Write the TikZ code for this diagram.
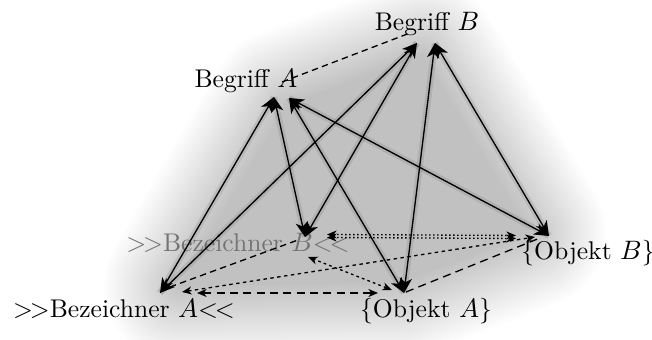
\documentclass[tikz,border=0pt]{standalone}
\usetikzlibrary{arrows.meta}
\newcommand{\gtgt}{>\kern-1.2pt>}
\newcommand{\ltlt}{<\kern-1.2pt<}
\begin{document}
\begin{tikzpicture}[x=0.375pt,y=-0.375pt,
  bigtip/.tip={Stealth[length=5.6pt,width=4.6pt,inset=1.6pt]},
  smalltip/.tip={Stealth[length=3.6pt,width=3pt,inset=1.1pt]},
  solidlink/.style={line width=.5pt, bigtip-bigtip},
  samelink/.style={line width=.5pt, dash pattern=on 2.4pt off 1.6pt},
  longlink/.style={line width=.5pt, dash pattern=on 3pt off 2pt, smalltip-smalltip},
  finelink/.style={line width=.5pt, dash pattern=on 1.3pt off 1.3pt, smalltip-smalltip},
  dotlink/.style={line width=.5pt, dash pattern=on .5pt off 1pt, smalltip-smalltip},
  lbl/.style={anchor=base, inner sep=0pt, font=\fontsize{9.6}{12}\selectfont},
  glow/.style={line width=2.4pt, black, opacity=.09}]
\useasboundingbox (0,0) rectangle (652,340);
% soft gray background
\foreach \i in {0,...,30}{
  \begin{scope}[transparency group, opacity=.0085]
    \filldraw[black, line join=round, line width=\i*1.9pt]
      (286,105) -- (423,55) -- (530,232) -- (402,282) -- (180,286) -- cycle;
  \end{scope}
}
% anchor points
\coordinate (BAl) at (274,97);
\coordinate (BAr) at (289,98);
\coordinate (BBl) at (417,43);
\coordinate (BBr) at (435,43);
\coordinate (BzA) at (160,293);
\coordinate (BzB) at (305,237);
\coordinate (OA) at (404,293);
\coordinate (OB) at (549,236);
% ends of the dashed links
\coordinate (sBA) at (282,82);
\coordinate (sBB) at (410,33);
\coordinate (sZA) at (170,287);
\coordinate (sZB) at (298,240);
\coordinate (sOA) at (406,292);
\coordinate (sOB) at (540,238);
\coordinate (lA1) at (197,293);
\coordinate (lA2) at (378,293);
\coordinate (fA1) at (182,292);
\coordinate (fA2) at (535,237);
\coordinate (dB1) at (327,234.5);
\coordinate (dB2) at (516,235.5);
\coordinate (dB3) at (327,237.5);
\coordinate (dB4) at (516,238.5);
\coordinate (oA1) at (392,290);
\coordinate (oA2) at (308,257);
% labels
\node[lbl] (tBA) at (246,88) {Begriff $A$};
\node[lbl] (tBB) at (427,31) {Begriff $B$};
\node[lbl, text=black!55] (tZB) at (238,252) {\gtgt Bezeichner $B$\ltlt};
\node[lbl] (tZA) at (124,318) {\gtgt Bezeichner $A$\ltlt};
\node[lbl] (tOA) at (426,318) {\{Objekt $A$\}};
\node[lbl] (tOB) at (588,260) {\{Objekt $B$\}};
% shadows of the solid links
\foreach \a/\b in {BzA/BAl,BzB/BAl,OA/BAr,OB/BAr,BzA/BBl,BzB/BBl,OA/BBr,OB/BBr}
  \draw[glow] (\a) -- (\b);
% links between the same level
\draw[samelink] (sBA) -- (sBB);
\draw[samelink] (sZA) -- (sZB);
\draw[samelink, dash pattern=on 3pt off 2pt] (sOA) -- (sOB);
% links between names and objects
\draw[longlink] (lA1) -- (lA2);
\draw[finelink] (fA1) -- (fA2);
\draw[dotlink] (dB1) -- (dB2);
\draw[dotlink] (dB3) -- (dB4);
\draw[finelink, dash pattern=on 1pt off 1.2pt] (oA1) -- (oA2);
% solid links
\foreach \a/\b in {BzA/BAl,BzB/BAl,OA/BAr,OB/BAr,BzA/BBl,BzB/BBl,OA/BBr,OB/BBr}
  \draw[solidlink] (\a) -- (\b);
\end{tikzpicture}
\end{document}
